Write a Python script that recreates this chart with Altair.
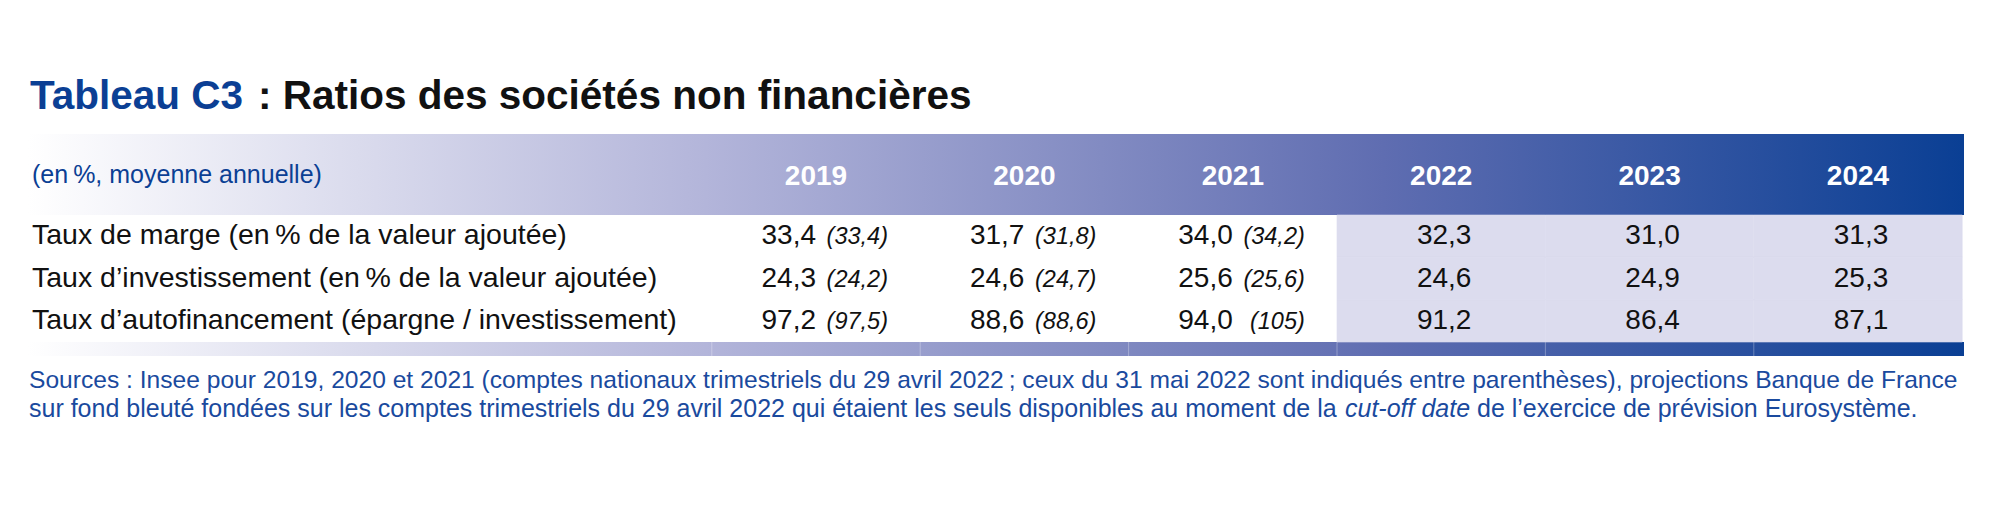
import altair as alt
import pandas as pd

# ---------------- data ----------------
years = ["2019", "2020", "2021", "2022", "2023", "2024"]
rows = [
    "Taux de marge (en\u202f% de la valeur ajoutée)",
    "Taux d’investissement (en\u202f% de la valeur ajoutée)",
    "Taux d’autofinancement (épargne / investissement)",
]
marge = [33.4, 31.7, 34.0, 32.3, 31.0, 31.3]
investissement = [24.3, 24.6, 25.6, 24.6, 24.9, 25.3]
autofinancement = [97.2, 88.6, 94.0, 91.2, 86.4, 87.1]
# comptes du 31 mai 2022 (entre parenthèses), 2019-2021
marge_rev = [33.4, 31.8, 34.2]
investissement_rev = [24.2, 24.7, 25.6]
autofinancement_rev = [97.5, 88.6, 105]
observed_years = ["2019", "2020", "2021"]
projected_years = ["2022", "2023", "2024"]

title_a = "Tableau C3"
title_b = ": Ratios des sociétés non financières"
subtitle = "(en\u202f%, moyenne annuelle)"
source_1 = ("Sources : Insee pour 2019, 2020 et 2021 (comptes nationaux trimestriels du 29 avril 2022\u202f; "
            "ceux du 31 mai 2022 sont indiqués entre parenthèses), projections Banque de France")
source_2a = ("sur fond bleuté fondées sur les comptes trimestriels du 29 avril 2022 qui étaient les seuls "
             "disponibles au moment de la")
source_2b = "cut-off date"
source_2c = "de l’exercice de prévision Eurosystème."


def fr(v):
    if v >= 100:
        return f"{v:.0f}"
    return f"{v:.1f}".replace(".", ",")


series = [marge, investissement, autofinancement]
series_rev = [marge_rev, investissement_rev, autofinancement_rev]

cells = pd.DataFrame(
    [{"row": r, "year": y, "txt": fr(vals[i])}
     for r, vals in zip(rows, series) for i, y in enumerate(years)]
)
revs = pd.DataFrame(
    [{"row": r, "year": y, "txt": "(" + fr(vals[i]) + ")"}
     for r, vals in zip(rows, series_rev) for i, y in enumerate(observed_years)]
)
shade = pd.DataFrame([{"row": r, "year": y} for r in rows for y in projected_years])
year_df = pd.DataFrame({"year": years})
row_df = pd.DataFrame({"row": rows})
one = pd.DataFrame({"k": [0]})

# ---------------- styles ----------------
FONT = "Liberation Sans"
BLUE = "#0b3f94"
SRC_BLUE = "#1a4a9e"
grad = alt.Gradient(
    gradient="linear",
    stops=[
        alt.GradientStop(offset=0.0, color="#ffffff"),
        alt.GradientStop(offset=0.35, color="#b3b5da"),
        alt.GradientStop(offset=0.7, color="#5f6db1"),
        alt.GradientStop(offset=1.0, color="#0a3f94"),
    ],
    x1=0, x2=1, y1=0, y2=0,
)

xs = alt.Scale(type="band", domain=years, range=[703.8, 1954.2], paddingInner=0, paddingOuter=0)
ys = alt.Scale(type="band", domain=rows, range=[207, 334], paddingInner=0, paddingOuter=0)
X = alt.X("year:N", scale=xs, axis=None)
Y = alt.Y("row:N", scale=ys, axis=None)

header = alt.Chart(one).mark_rect(fill=grad).encode(
    x=alt.value(20), x2=alt.value(1956), y=alt.value(126), y2=alt.value(207))
bottom = alt.Chart(one).mark_rect(fill=grad).encode(
    x=alt.value(20), x2=alt.value(1956), y=alt.value(334), y2=alt.value(348))
seps = alt.Chart(year_df).mark_rule(color="#ffffff", opacity=0.3, strokeWidth=1).encode(
    x=alt.X("year:N", scale=xs, axis=None, bandPosition=0), y=alt.value(334), y2=alt.value(348))

shade_l = alt.Chart(shade).mark_rect(fill="#dcdcee", stroke="#dcdcee", strokeWidth=0.6).encode(x=X, y=Y)

year_txt = alt.Chart(year_df).mark_text(
    font=FONT, fontSize=28, fontWeight="bold", color="white", baseline="alphabetic", align="center"
).encode(x=X, y=alt.value(177), text="year:N")

sub_txt = alt.Chart(one).mark_text(
    font=FONT, fontSize=25, color=BLUE, align="left", baseline="alphabetic", text=subtitle
).encode(x=alt.value(24), y=alt.value(175))

row_txt = alt.Chart(row_df).mark_text(
    font=FONT, fontSize=28.5, color="#111111", align="left", baseline="alphabetic", dy=8
).encode(x=alt.value(24), y=Y, text="row:N")

obs_txt = alt.Chart(cells[cells.year.isin(observed_years)]).mark_text(
    font=FONT, fontSize=28, color="#111111", align="right", baseline="alphabetic", dy=8, dx=0
).encode(x=X, y=Y, text="txt:N")

proj_txt = alt.Chart(cells[cells.year.isin(projected_years)]).mark_text(
    font=FONT, fontSize=28, color="#111111", align="center", baseline="alphabetic", dy=8, dx=3
).encode(x=X, y=Y, text="txt:N")

rev_txt = alt.Chart(revs).mark_text(
    font=FONT, fontSize=23.5, fontStyle="italic", color="#111111", align="right",
    baseline="alphabetic", dy=8, dx=72
).encode(x=X, y=Y, text="txt:N")

t1 = alt.Chart(one).mark_text(
    font=FONT, fontSize=40.5, fontWeight="bold", color=BLUE, align="left", baseline="alphabetic", text=title_a
).encode(x=alt.value(22), y=alt.value(101))
t2 = alt.Chart(one).mark_text(
    font=FONT, fontSize=40.5, fontWeight="bold", color="#111111", align="left", baseline="alphabetic", text=title_b
).encode(x=alt.value(250), y=alt.value(101))

s1 = alt.Chart(one).mark_text(
    font=FONT, fontSize=24.6, color=SRC_BLUE, align="left", baseline="alphabetic", text=source_1
).encode(x=alt.value(21), y=alt.value(380))
s2a = alt.Chart(one).mark_text(
    font=FONT, fontSize=25, color=SRC_BLUE, align="left", baseline="alphabetic", text=source_2a
).encode(x=alt.value(21), y=alt.value(409))
s2b = alt.Chart(one).mark_text(
    font=FONT, fontSize=25, fontStyle="italic", color=SRC_BLUE, align="left", baseline="alphabetic", text=source_2b
).encode(x=alt.value(1337), y=alt.value(409))
s2c = alt.Chart(one).mark_text(
    font=FONT, fontSize=25, color=SRC_BLUE, align="left", baseline="alphabetic", text=source_2c
).encode(x=alt.value(1469), y=alt.value(409))

chart = alt.layer(
    header, bottom, seps, shade_l, year_txt, sub_txt, row_txt, obs_txt, proj_txt, rev_txt,
    t1, t2, s1, s2a, s2b, s2c
).properties(
    width=1984, height=505, padding=0, autosize=alt.AutoSizeParams(type="none"), background="white"
).configure_view(stroke=None)

chart.save("out.html", embed_options={"renderer": "svg", "actions": False})
